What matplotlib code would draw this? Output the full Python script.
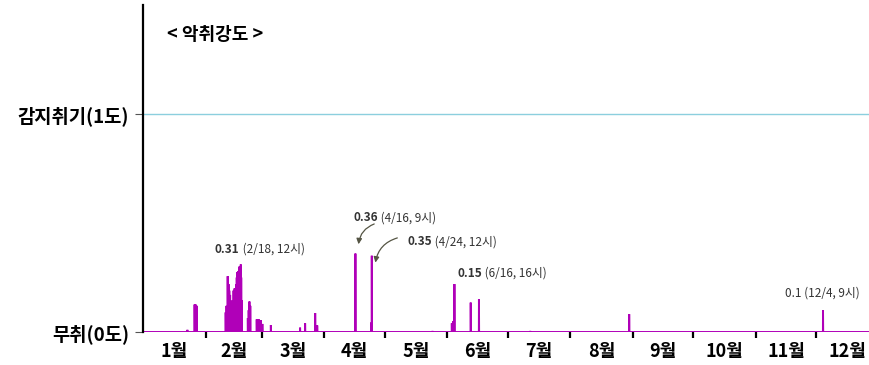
import numpy as np
import matplotlib
matplotlib.use("Agg")
import matplotlib.pyplot as plt

plt.rcParams['font.family'] = ['Noto Sans CJK KR', 'DejaVu Sans']

# 월 이름, 월 시작일(day of year)
months = ['1월', '2월', '3월', '4월', '5월', '6월', '7월', '8월', '9월', '10월', '11월', '12월']
month_start = [0, 31, 59, 90, 120, 151, 181, 212, 243, 273, 304, 334]
month_len = [31, 28, 31, 30, 31, 30, 31, 31, 30, 31, 30, 31]

# 악취강도 측정값 (day of year, 강도) - 나머지 시간은 0
event_day = [22.0, 25.6, 26.1, 26.7,
             41.0, 41.4, 42.0, 42.4, 42.8, 43.2, 43.5, 43.9, 44.4, 44.9, 45.4, 45.8,
             46.2, 46.5, 46.8, 47.3, 47.8, 48.5, 48.7, 49.0,
             52.0, 52.4, 52.8, 53.2, 56.4, 57.4, 58.4, 59.2, 63.4,
             77.9, 80.4, 85.4, 86.4,
             105.375, 113.4, 113.5,
             143.6, 153.2, 153.8, 154.5, 162.6, 166.67, 192.1,
             241.2, 337.375]
event_val = [0.01, 0.126, 0.126, 0.12,
             0.09, 0.12, 0.256, 0.22, 0.19, 0.17, 0.13, 0.12, 0.146, 0.19, 0.20, 0.20,
             0.22, 0.25, 0.275, 0.28, 0.30, 0.31, 0.25, 0.146,
             0.064, 0.10, 0.14, 0.12, 0.058, 0.058, 0.055, 0.037, 0.032,
             0.02, 0.04, 0.087, 0.03,
             0.36, 0.045, 0.35,
             0.005, 0.04, 0.05, 0.22, 0.135, 0.15, 0.005,
             0.082, 0.10]

# 주석 (위치 day, 값, 굵은 글씨, 나머지)
notes = [(35.7, 0.379, '0.31', ' (2/18, 12시)'),
         (104.2, 0.525, '0.36', ' (4/16, 9시)'),
         (131.0, 0.415, '0.35', ' (4/24, 12시)'),
         (155.8, 0.27, '0.15', ' (6/16, 16시)')]

hours = np.arange(0, 365 * 24 + 1)
x = hours / 24.0
y = np.zeros(len(hours))
for d, v in zip(event_day, event_val):
    y[int(round(d * 24))] = v

fig = plt.figure(figsize=(8.7, 3.65), dpi=100)
ax = fig.add_axes([0.1644, 0.0904, 0.834, 0.8956])

purple = '#B000B8'
ax.plot(x, y, color=purple, lw=1.4, solid_joinstyle='miter')
ax.axhline(1.0, color='#8CCFDE', lw=1.0)

ax.set_xlim(0, 360)
ax.set_ylim(0, 1.5)

for s in ['top', 'right', 'bottom']:
    ax.spines[s].set_visible(False)
ax.spines['left'].set_linewidth(1.6)

ax.set_yticks([0, 1])
ax.set_yticklabels(['무취(0도)', '감지취기(1도)'], fontsize=13.5, fontweight='bold')
ax.tick_params(axis='y', length=6, width=0.8, pad=4, color='#555555')

ax.set_xticks(month_start[1:])
ax.set_xticklabels([])
ax.tick_params(axis='x', which='major', length=4, width=1.6, color='black')
ax.set_xticks([s + l / 2 for s, l in zip(month_start, month_len)], minor=True)
ax.set_xticklabels(months, minor=True, fontsize=13, fontweight='bold')
ax.tick_params(axis='x', which='minor', length=0, pad=7)

ax.text(11.9, 1.365, '< 악취강도 >', fontsize=13, fontweight='bold', va='center')

for nx, ny, b, rest in notes:
    t = ax.text(nx, ny, b, fontsize=8.5, fontweight='bold', va='center', color='#333333')
    ax.annotate(rest, xy=(1, 0), xycoords=t, va='bottom', ha='left', fontsize=8.5, color='#333333')

ax.text(318.6, 0.178, '0.1 (12/4, 9시)', fontsize=8.5, va='center', color='#333333')

arrow = dict(arrowstyle='-|>', color='#555544', lw=0.9, mutation_scale=8,
             connectionstyle='arc3,rad=0.35')
ax.annotate('', xy=(106.8, 0.39), xytext=(116.0, 0.50), arrowprops=arrow)
ax.annotate('', xy=(115.1, 0.306), xytext=(127.5, 0.435), arrowprops=arrow)

fig.savefig('out.png', dpi=100)
